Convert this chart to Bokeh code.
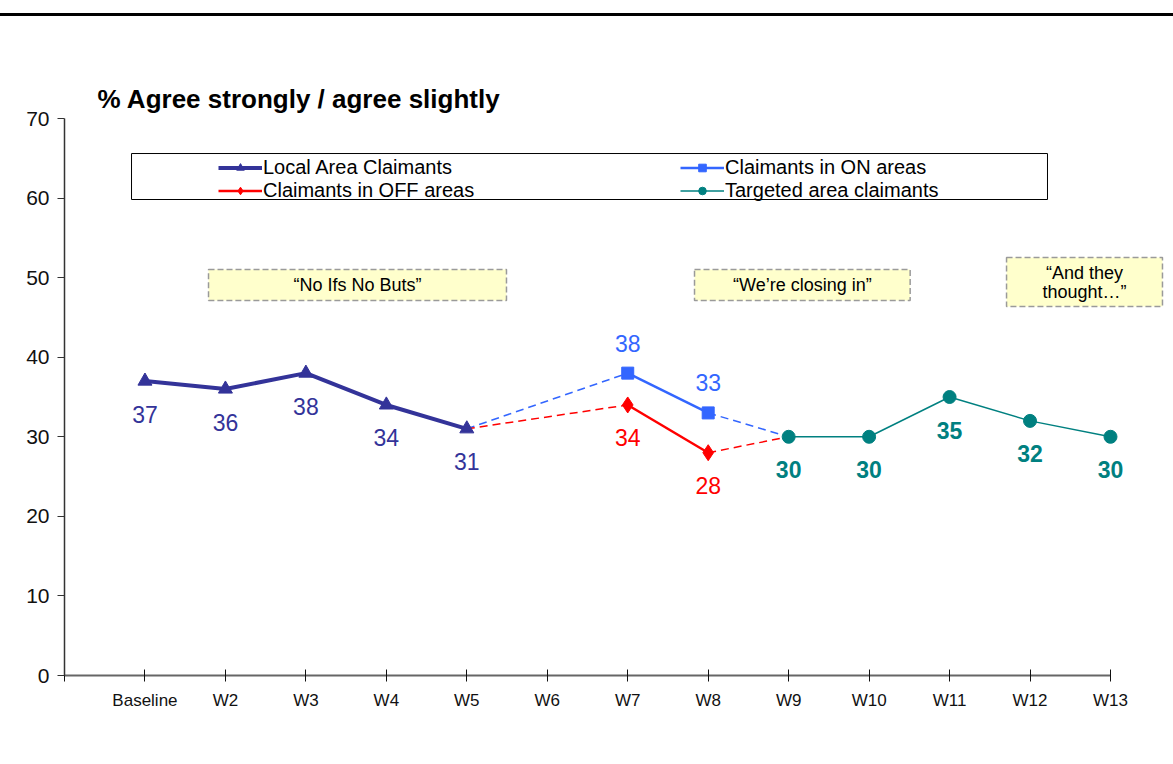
from bokeh.plotting import figure
from bokeh.layouts import column
from bokeh.models import (FixedTicker, Legend, LegendItem, Label, BoxAnnotation,
                          ColumnDataSource, Range1d, Div)
from bokeh.core.properties import value
from bokeh.embed import file_html
from bokeh.resources import INLINE

# Survey waves (x categories)
waves = ["Baseline", "W2", "W3", "W4", "W5", "W6", "W7",
         "W8", "W9", "W10", "W11", "W12", "W13"]

# % agree strongly / agree slightly, per series
local_waves = ["Baseline", "W2", "W3", "W4", "W5"]
local_vals = [37, 36, 38, 34, 31]

on_waves = ["W7", "W8"]
on_vals = [38, 33]

off_waves = ["W7", "W8"]
off_vals = [34, 28]

targeted_waves = ["W9", "W10", "W11", "W12", "W13"]
targeted_vals = [30, 30, 35, 32, 30]

y_ticks = [0, 10, 20, 30, 40, 50, 60, 70]

NAVY = "#333399"
BLUE = "#3366FF"
RED = "#FF0000"
TEAL = "#008080"
FONT = "Liberation Sans"

idx = {w: i for i, w in enumerate(waves)}


def xs(names):
    return [idx[n] for n in names]


# The frame runs past the last wave and above 70 so the captions can sit there;
# the axes themselves are bounded to the data extent.
p = figure(width=1173, height=748, output_backend="svg", toolbar_location=None,
           title=None,
           x_range=Range1d(-1, 12.783), y_range=Range1d(0, 82.82),
           min_border_left=64, min_border_right=0,
           min_border_top=0, min_border_bottom=89)
p.grid.visible = False
p.outline_line_color = None
p.background_fill_color = "white"
p.border_fill_color = "white"

# x axis
xa = p.xaxis[0]
xa.bounds = (-1, 12)
xa.ticker = FixedTicker(ticks=list(range(-1, len(waves))))
overrides = {-1: ""}
overrides.update({i: w for i, w in enumerate(waves)})
xa.major_label_overrides = overrides
xa.major_tick_in = 6
xa.major_tick_out = 6
xa.major_tick_line_color = "#111111"
xa.axis_line_color = "#666666"
xa.axis_line_width = 2
xa.major_label_text_font = FONT
xa.major_label_text_font_size = "17px"
xa.major_label_text_color = "#111111"
xa.major_label_standoff = 9
xa.minor_tick_line_color = None

# y axis
ya = p.yaxis[0]
ya.bounds = (0, 70)
ya.ticker = FixedTicker(ticks=y_ticks)
ya.major_tick_in = 0
ya.major_tick_out = 7
ya.major_tick_line_color = "#333333"
ya.axis_line_color = "#333333"
ya.axis_line_width = 1.5
ya.major_label_text_font = FONT
ya.major_label_text_font_size = "21px"
ya.major_label_text_color = "#111111"
ya.major_label_standoff = 8
ya.minor_tick_line_color = None

# chart heading
p.add_layout(Label(x=-0.59, y=72.5, text="% Agree strongly / agree slightly",
                   text_align="left", text_baseline="middle", text_font=FONT,
                   text_font_size="26px", text_font_style="bold", text_color="black"))

# dashed connectors between phases
lx, ly = xs(local_waves)[-1], local_vals[-1]
tx, ty = xs(targeted_waves)[0], targeted_vals[0]
dash = dict(line_width=1.5, line_dash="8 5")
p.line([lx, xs(on_waves)[0]], [ly, on_vals[0]], line_color=BLUE, **dash)
p.line([xs(on_waves)[-1], tx], [on_vals[-1], ty], line_color=BLUE, **dash)
p.line([lx, xs(off_waves)[0]], [ly, off_vals[0]], line_color=RED, **dash)
p.line([xs(off_waves)[-1], tx], [off_vals[-1], ty], line_color=RED, **dash)

# series
src_local = ColumnDataSource(dict(x=xs(local_waves), y=local_vals, t=[str(v) for v in local_vals]))
src_on = ColumnDataSource(dict(x=xs(on_waves), y=on_vals, t=[str(v) for v in on_vals]))
src_off = ColumnDataSource(dict(x=xs(off_waves), y=off_vals, t=[str(v) for v in off_vals]))
src_tg = ColumnDataSource(dict(x=xs(targeted_waves), y=targeted_vals, t=[str(v) for v in targeted_vals]))

l_local = p.line("x", "y", source=src_local, line_color=NAVY, line_width=4)
m_local = p.scatter("x", "y", source=src_local, marker="triangle", size=14,
                    fill_color=NAVY, line_color=NAVY)
l_on = p.line("x", "y", source=src_on, line_color=BLUE, line_width=2.5)
m_on = p.scatter("x", "y", source=src_on, marker="square", size=12,
                 fill_color=BLUE, line_color=BLUE)
l_off = p.line("x", "y", source=src_off, line_color=RED, line_width=2.5)
m_off = p.scatter("x", "y", source=src_off, marker="diamond", size=16,
                  fill_color=RED, line_color=RED)
l_tg = p.line("x", "y", source=src_tg, line_color=TEAL, line_width=1.5)
m_tg = p.scatter("x", "y", source=src_tg, marker="circle", size=13,
                 fill_color=TEAL, line_color=TEAL)

# value labels
lab = dict(text="t", text_font=value(FONT), text_font_size="23px", text_align="center",
           text_baseline="middle")
p.text("x", "y", source=src_local, text_color=NAVY, y_offset=33, **lab)
p.text("x", "y", source=src_on, text_color=BLUE, y_offset=-30, **lab)
p.text("x", "y", source=src_off, text_color=RED, y_offset=33, **lab)
p.text("x", "y", source=src_tg, text_color=TEAL, y_offset=33, text_font_style="bold", **lab)

# legend frame
p.add_layout(BoxAnnotation(left=-0.167, right=11.217, bottom=59.82, top=65.6,
                           fill_color="white", fill_alpha=1,
                           line_color="black", line_alpha=1, line_width=1))

legend = Legend(items=[
    LegendItem(label="Local Area Claimants", renderers=[l_local, m_local]),
    LegendItem(label="Claimants in ON areas", renderers=[l_on, m_on]),
    LegendItem(label="Claimants in OFF areas", renderers=[l_off, m_off]),
    LegendItem(label="Targeted area claimants", renderers=[l_tg, m_tg]),
], orientation="horizontal", ncols=2, location=(154, 473),
    glyph_width=44, glyph_height=19, label_height=19, label_width=417,
    label_standoff=1, spacing=0, padding=0, margin=0,
    label_text_font=FONT, label_text_font_size="20px", label_text_color="black",
    border_line_color=None, background_fill_alpha=0)
p.add_layout(legend)

# campaign captions
boxes = [
    (0.79, 4.493, 47.13, 51.02, "\u201cNo Ifs No Buts\u201d"),
    (6.83, 9.51, 47.13, 51.02, "\u201cWe\u2019re closing in\u201d"),
    (10.708, 12.646, 46.37, 52.53, "\u201cAnd they\nthought\u2026\u201d"),
]
for left, right, bottom, top, txt in boxes:
    p.add_layout(BoxAnnotation(left=left, right=right, bottom=bottom, top=top,
                               fill_color="#FFFFCC", fill_alpha=1,
                               line_color="#9A9A9A", line_alpha=1,
                               line_width=1.5, line_dash="6 3"))
    p.add_layout(Label(x=(left + right) / 2, y=(bottom + top) / 2, text=txt,
                       text_align="center", text_baseline="middle", text_font=FONT,
                       text_font_size="18px", text_line_height=0.95, text_color="black"))

# rule across the top of the page
rule = Div(text='<div style="height:13px"></div>'
                '<div style="height:3px;width:1173px;background:#000"></div>',
           width=1173, height=16, margin=0)

page = column(rule, p, spacing=0)
open("out.html", "w").write(file_html(page, INLINE))
